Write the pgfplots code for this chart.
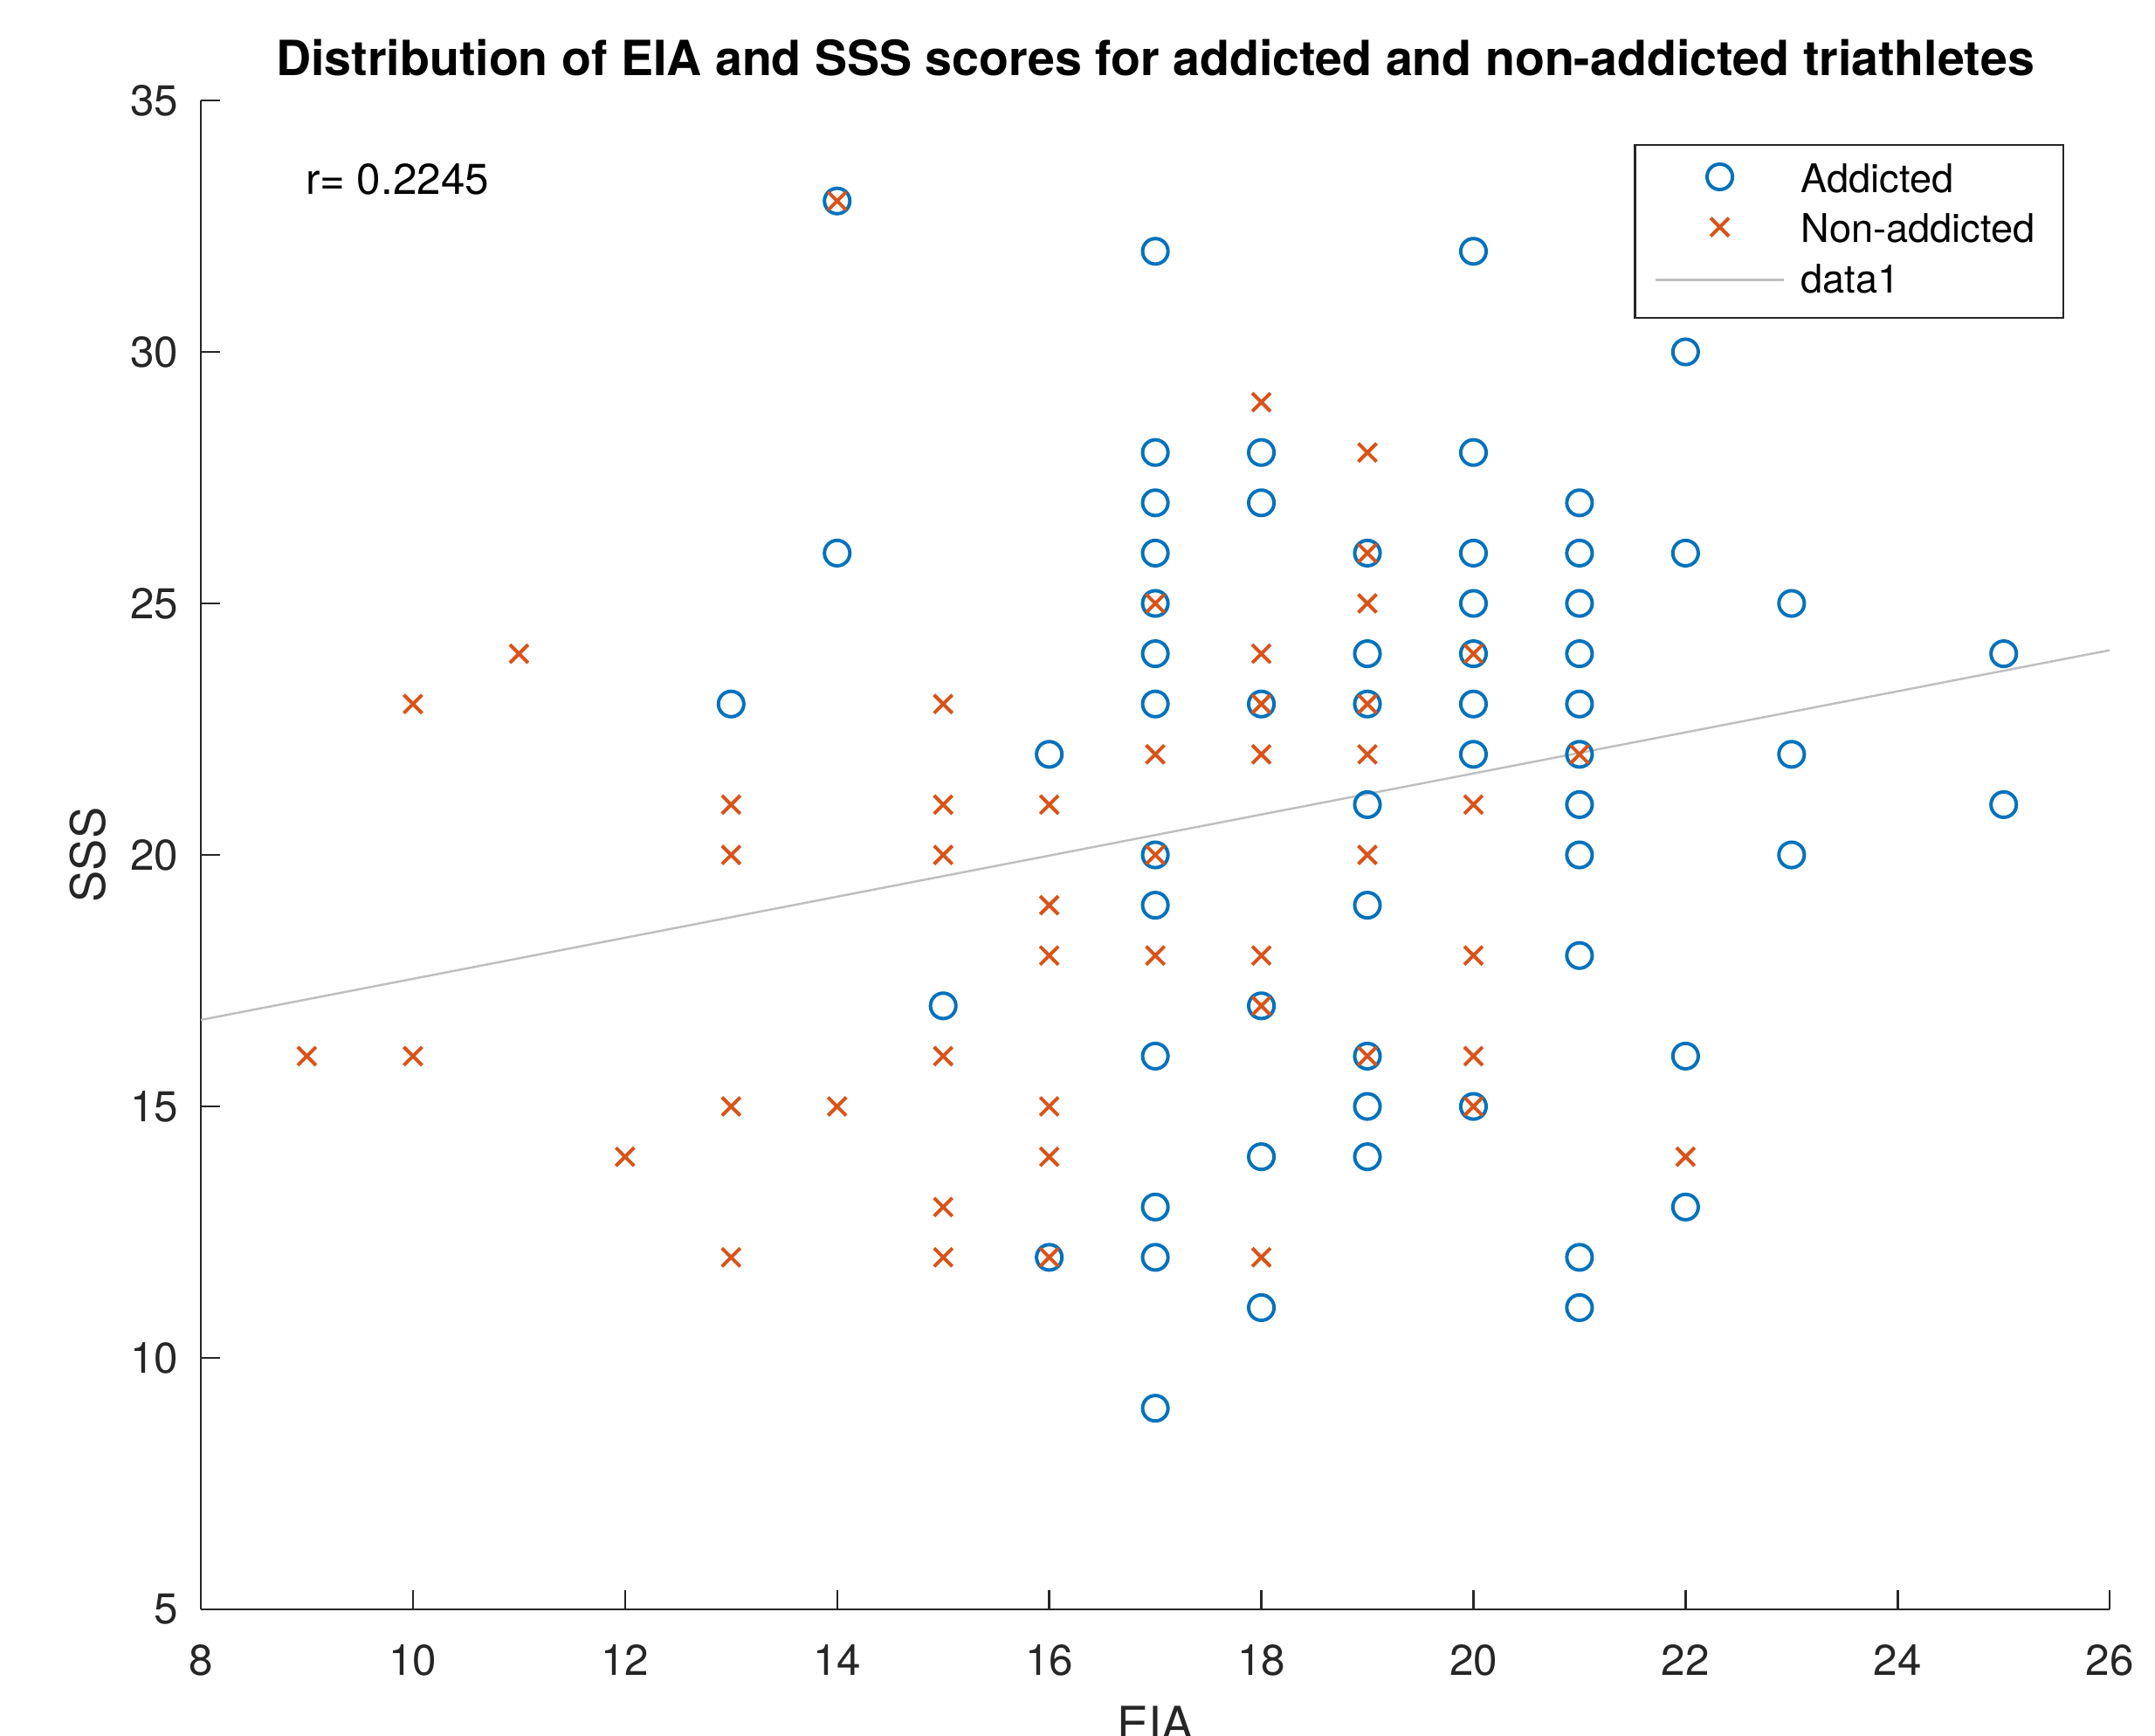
\documentclass[border=0pt]{standalone}
\usepackage{pgfplots}
\pgfplotsset{compat=1.18}
\usepackage{fontspec}
\setmainfont{TeX Gyre Heros}
\definecolor{mblue}{HTML}{0072BD}
\definecolor{morange}{HTML}{D95319}
\definecolor{axgray}{HTML}{262626}
\definecolor{fitgray}{HTML}{BFBFBF}
\pgfplotsset{
  markimg/.style={legend image code/.code={\path (0pt,0pt) (29.7pt,0pt);
    \draw[##1] plot coordinates {(14.85pt,1pt)};}},
  lineimg/.style={legend image code/.code={\draw[##1] (0pt,0.4pt) -- (29.7pt,0.4pt);}},
  every axis title/.style={at={(axis description cs:0.5,1)}, anchor=base, yshift=5.8pt},
}

\begin{document}
\begin{tikzpicture}
\begin{axis}[
  scale only axis,
  width=442.9pt, height=350.1pt,
  xmin=8, xmax=26, ymin=5, ymax=35,
  xtick={8,10,...,26}, ytick={5,10,...,35},
  axis lines=left,
  axis line style={-, draw=axgray, line width=0.5pt},
  tick align=inside,
  major tick length=4.5pt,
  tick style={draw=axgray, line width=0.5pt},
  ticklabel style={font=\fontsize{10}{12}\selectfont, text=axgray},
  /pgf/number format/assume math mode=true,
  xticklabel style={anchor=north, inner sep=0pt, yshift=-8pt},
  yticklabel style={anchor=east, inner sep=0pt, xshift=-5pt},
  xlabel={EIA}, ylabel={SSS},
  xlabel style={at={(axis description cs:0.5,0)}, anchor=north, inner sep=0pt,
    yshift=-22.3pt, font=\fontsize{11}{13}\selectfont, text=axgray},
  ylabel style={at={(axis description cs:-0.0592,0.5)}, anchor=center,
    font=\fontsize{11}{13}\selectfont, text=axgray},
  title={Distribution of EIA and SSS scores for addicted and non-addicted triathletes},
  title style={font=\bfseries\fontsize{11.25}{13}\selectfont},
  legend style={at={(rel axis cs:1,1)}, anchor=north east, xshift=-10.5pt, yshift=-10.1pt,
    draw=axgray, line width=0.5pt, font=\fontsize{9.15}{11}\selectfont,
    inner xsep=4.4pt, inner ysep=4.3pt, row sep=3.5pt, column sep=3.6pt,
    nodes={inner sep=0pt}},
  legend cell align=left,
]
% addicted
\addplot[only marks, mark=o, mark size=2.95pt, line width=0.8pt, color=mblue, markimg]
  coordinates {
  (13,23)
  (14,33) (14,26)
  (15,17)
  (16,22) (16,12)
  (17,32) (17,28) (17,27) (17,26) (17,25) (17,24) (17,23) (17,20) (17,19) (17,16) (17,13) (17,12) (17,9)
  (18,28) (18,27) (18,23) (18,17) (18,14) (18,11)
  (19,26) (19,24) (19,23) (19,21) (19,19) (19,16) (19,15) (19,14)
  (20,32) (20,28) (20,26) (20,25) (20,24) (20,23) (20,22) (20,15)
  (21,27) (21,26) (21,25) (21,24) (21,23) (21,22) (21,21) (21,20) (21,18) (21,12) (21,11)
  (22,30) (22,26) (22,16) (22,13)
  (23,25) (23,22) (23,20)
  (25,24) (25,21)
};
\addlegendentry{Addicted}
% non-addicted
\addplot[only marks, mark=x, mark size=3pt, line width=0.8pt, color=morange, markimg]
  coordinates {
  (9,16) (10,23) (10,16) (11,24) (12,14)
  (13,21) (13,20) (13,15) (13,12)
  (14,33) (14,15)
  (15,23) (15,21) (15,20) (15,16) (15,13) (15,12)
  (16,21) (16,19) (16,18) (16,15) (16,14) (16,12)
  (17,25) (17,22) (17,20) (17,18)
  (18,29) (18,24) (18,23) (18,22) (18,18) (18,17) (18,12)
  (19,28) (19,26) (19,25) (19,23) (19,22) (19,20) (19,16)
  (20,24) (20,21) (20,18) (20,16) (20,15)
  (21,22)
  (22,14)
};
\addlegendentry{Non-addicted\rule{2.2pt}{0pt}}
% fit line
\addplot[no marks, color=fitgray, line width=0.5pt, lineimg]
  coordinates {(8,16.72) (26,24.07)};
\addlegendentry{data1}

\node[anchor=base west, inner sep=0pt, font=\fontsize{10}{12}\selectfont]
  at (axis cs:8.98,33.14) {r= 0.2245};

\coordinate (sw) at (rel axis cs:0,0);
\coordinate (ne) at (rel axis cs:1,1);
\end{axis}
\pgfresetboundingbox
\path[use as bounding box] ([shift={(-46.6pt,-29.2pt)}]sw) rectangle ([shift={(10.5pt,23.3pt)}]ne);
\end{tikzpicture}
\end{document}
